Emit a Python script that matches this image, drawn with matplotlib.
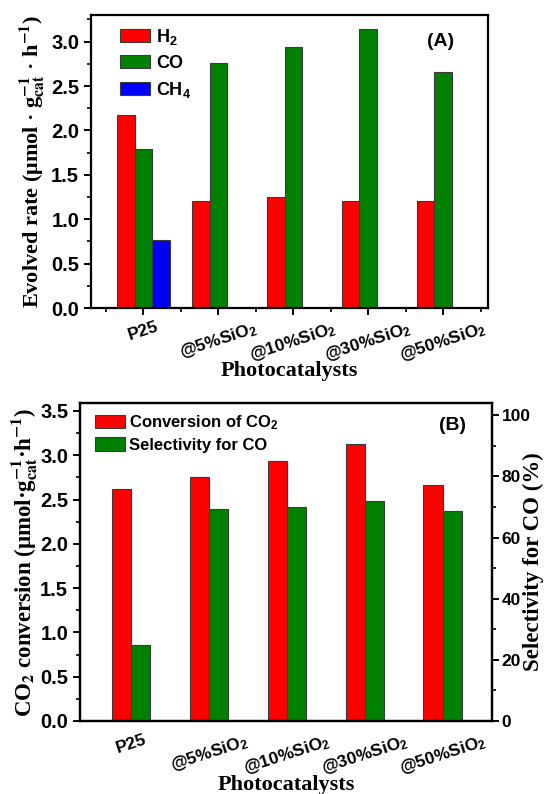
import numpy as np
import matplotlib
matplotlib.use('Agg')
import matplotlib.pyplot as plt
from matplotlib.ticker import MultipleLocator, FixedLocator, FormatStrFormatter

plt.rcParams['font.family'] = ['Liberation Sans', 'DejaVu Sans']
plt.rcParams['font.weight'] = 'bold'
plt.rcParams['mathtext.fontset'] = 'custom'
plt.rcParams['mathtext.rm'] = 'Liberation Sans:bold'
plt.rcParams['mathtext.it'] = 'Liberation Sans:bold'
plt.rcParams['mathtext.bf'] = 'Liberation Sans:bold'

# data
samples = ['P25', '@5%SiO$_2$', '@10%SiO$_2$', '@30%SiO$_2$', '@50%SiO$_2$']
h2 = [2.17, 1.21, 1.25, 1.20, 1.21]
co = [1.79, 2.76, 2.94, 3.14, 2.66]
ch4 = [0.77, 0, 0, 0, 0]
conv_co2 = [2.62, 2.76, 2.93, 3.13, 2.66]
sel_co = [25.0, 69.3, 69.9, 72.1, 68.6]

RED, GREEN, BLUE = '#ff0000', '#008000', '#0000ff'
EDGE = '#3a3a3a'
serif = dict(family='Liberation Serif', weight='bold', math_fontfamily='stix')

fig = plt.figure(figsize=(5.47, 7.94), dpi=100)
W, H = 547, 794
def box(l, t, r, b): return [l/W, (H-b)/H, (r-l)/W, (b-t)/H]

def style(ax, size=14.5):
    for s in ax.spines.values(): s.set_linewidth(1.6)
    ax.tick_params(which='major', direction='out', length=5, width=1.4, labelsize=size)
    ax.tick_params(which='minor', direction='out', length=3, width=1.2)
    for t in ax.get_yticklabels(): t.set_fontweight('bold')

# ---------- (A)
ax = fig.add_axes(box(91, 15, 488, 308))
x = np.arange(len(samples)); w = 0.232
ax.bar(x - w, h2, w, color=RED, edgecolor=EDGE, lw=0.8, label='H$_2$')
ax.bar(x, co, w, color=GREEN, edgecolor=EDGE, lw=0.8, label='CO')
xc = np.array([xi for xi, v in zip(x, ch4) if v > 0])
ax.bar(xc + w, [v for v in ch4 if v > 0], w, color=BLUE, edgecolor=EDGE, lw=0.8, label='CH$_4$')
ax.set_xlim(-0.70, 4.60); ax.set_ylim(0, 3.30)
ax.yaxis.set_major_locator(MultipleLocator(0.5)); ax.yaxis.set_minor_locator(MultipleLocator(0.25))
ax.yaxis.set_major_formatter(FormatStrFormatter('%.1f'))
ax.xaxis.set_major_locator(FixedLocator(x)); ax.xaxis.set_minor_locator(FixedLocator(np.arange(-0.5, 4.6, 1)))
style(ax)
ax.set_xticklabels(samples, rotation=18, ha='center', fontsize=12.5, fontweight='bold')
ax.tick_params(axis='x', pad=3)
ax.set_ylabel(r'Evolved rate (μmol · g$_{\mathbf{cat}}^{\mathbf{-1}}$ · h$^{\mathbf{-1}}$)', fontsize=16, labelpad=3, **serif)
ax.set_xlabel('Photocatalysts', fontsize=16, labelpad=-3, **serif)
ax.text(0.88, 0.91, '(A)', transform=ax.transAxes, ha='center', va='center', fontsize=14, fontweight='bold')
ax.legend(loc='upper left', bbox_to_anchor=(0.033, 1.015), frameon=False, fontsize=13,
          handlelength=1.65, handleheight=0.7, labelspacing=0.45, handletextpad=0.35)

# ---------- (B)
bx = fig.add_axes(box(80, 403, 492, 721))
wb = 0.247
b1 = bx.bar(x - wb/2, conv_co2, wb, color=RED, edgecolor=EDGE, lw=0.8)
bx.set_xlim(-0.654, 4.632); bx.set_ylim(0, 3.59)
bx.yaxis.set_major_locator(MultipleLocator(0.5)); bx.yaxis.set_minor_locator(MultipleLocator(0.25))
bx.yaxis.set_major_formatter(FormatStrFormatter('%.1f'))
bx.set_xticks(x)
style(bx)
bx.set_xticklabels(samples, rotation=18, ha='center', fontsize=12.5, fontweight='bold')
bx.tick_params(axis='x', length=0, pad=8)
bx.set_ylabel(r'CO$_{\mathbf{2}}$ conversion (μmol·g$_{\mathbf{cat}}^{\mathbf{-1}}$·h$^{\mathbf{-1}}$)', fontsize=16.5, labelpad=0, **serif)
bx.set_xlabel('Photocatalysts', fontsize=16, labelpad=-2, **serif)

bx2 = bx.twinx()
b2 = bx2.bar(x + wb/2, sel_co, wb, color=GREEN, edgecolor=EDGE, lw=0.8)
bx2.set_ylim(0, 104)
bx2.yaxis.set_major_locator(MultipleLocator(20)); bx2.yaxis.set_minor_locator(MultipleLocator(10))
style(bx2, size=12.5)
bx2.tick_params(axis='y', pad=2)
bx2.set_ylabel('Selectivity for CO (%)', fontsize=16.5, labelpad=-6, **serif)
bx2.text(0.905, 0.93, '(B)', transform=bx2.transAxes, ha='center', va='center', fontsize=14, fontweight='bold')
bx2.legend([b1, b2], ['Conversion of CO$_2$', 'Selectivity for CO'], loc='upper left',
           bbox_to_anchor=(0.0, 1.015), frameon=False, fontsize=12,
           handlelength=1.8, handleheight=0.9, labelspacing=0.3, handletextpad=0.25)

fig.savefig('out.png', dpi=100)
